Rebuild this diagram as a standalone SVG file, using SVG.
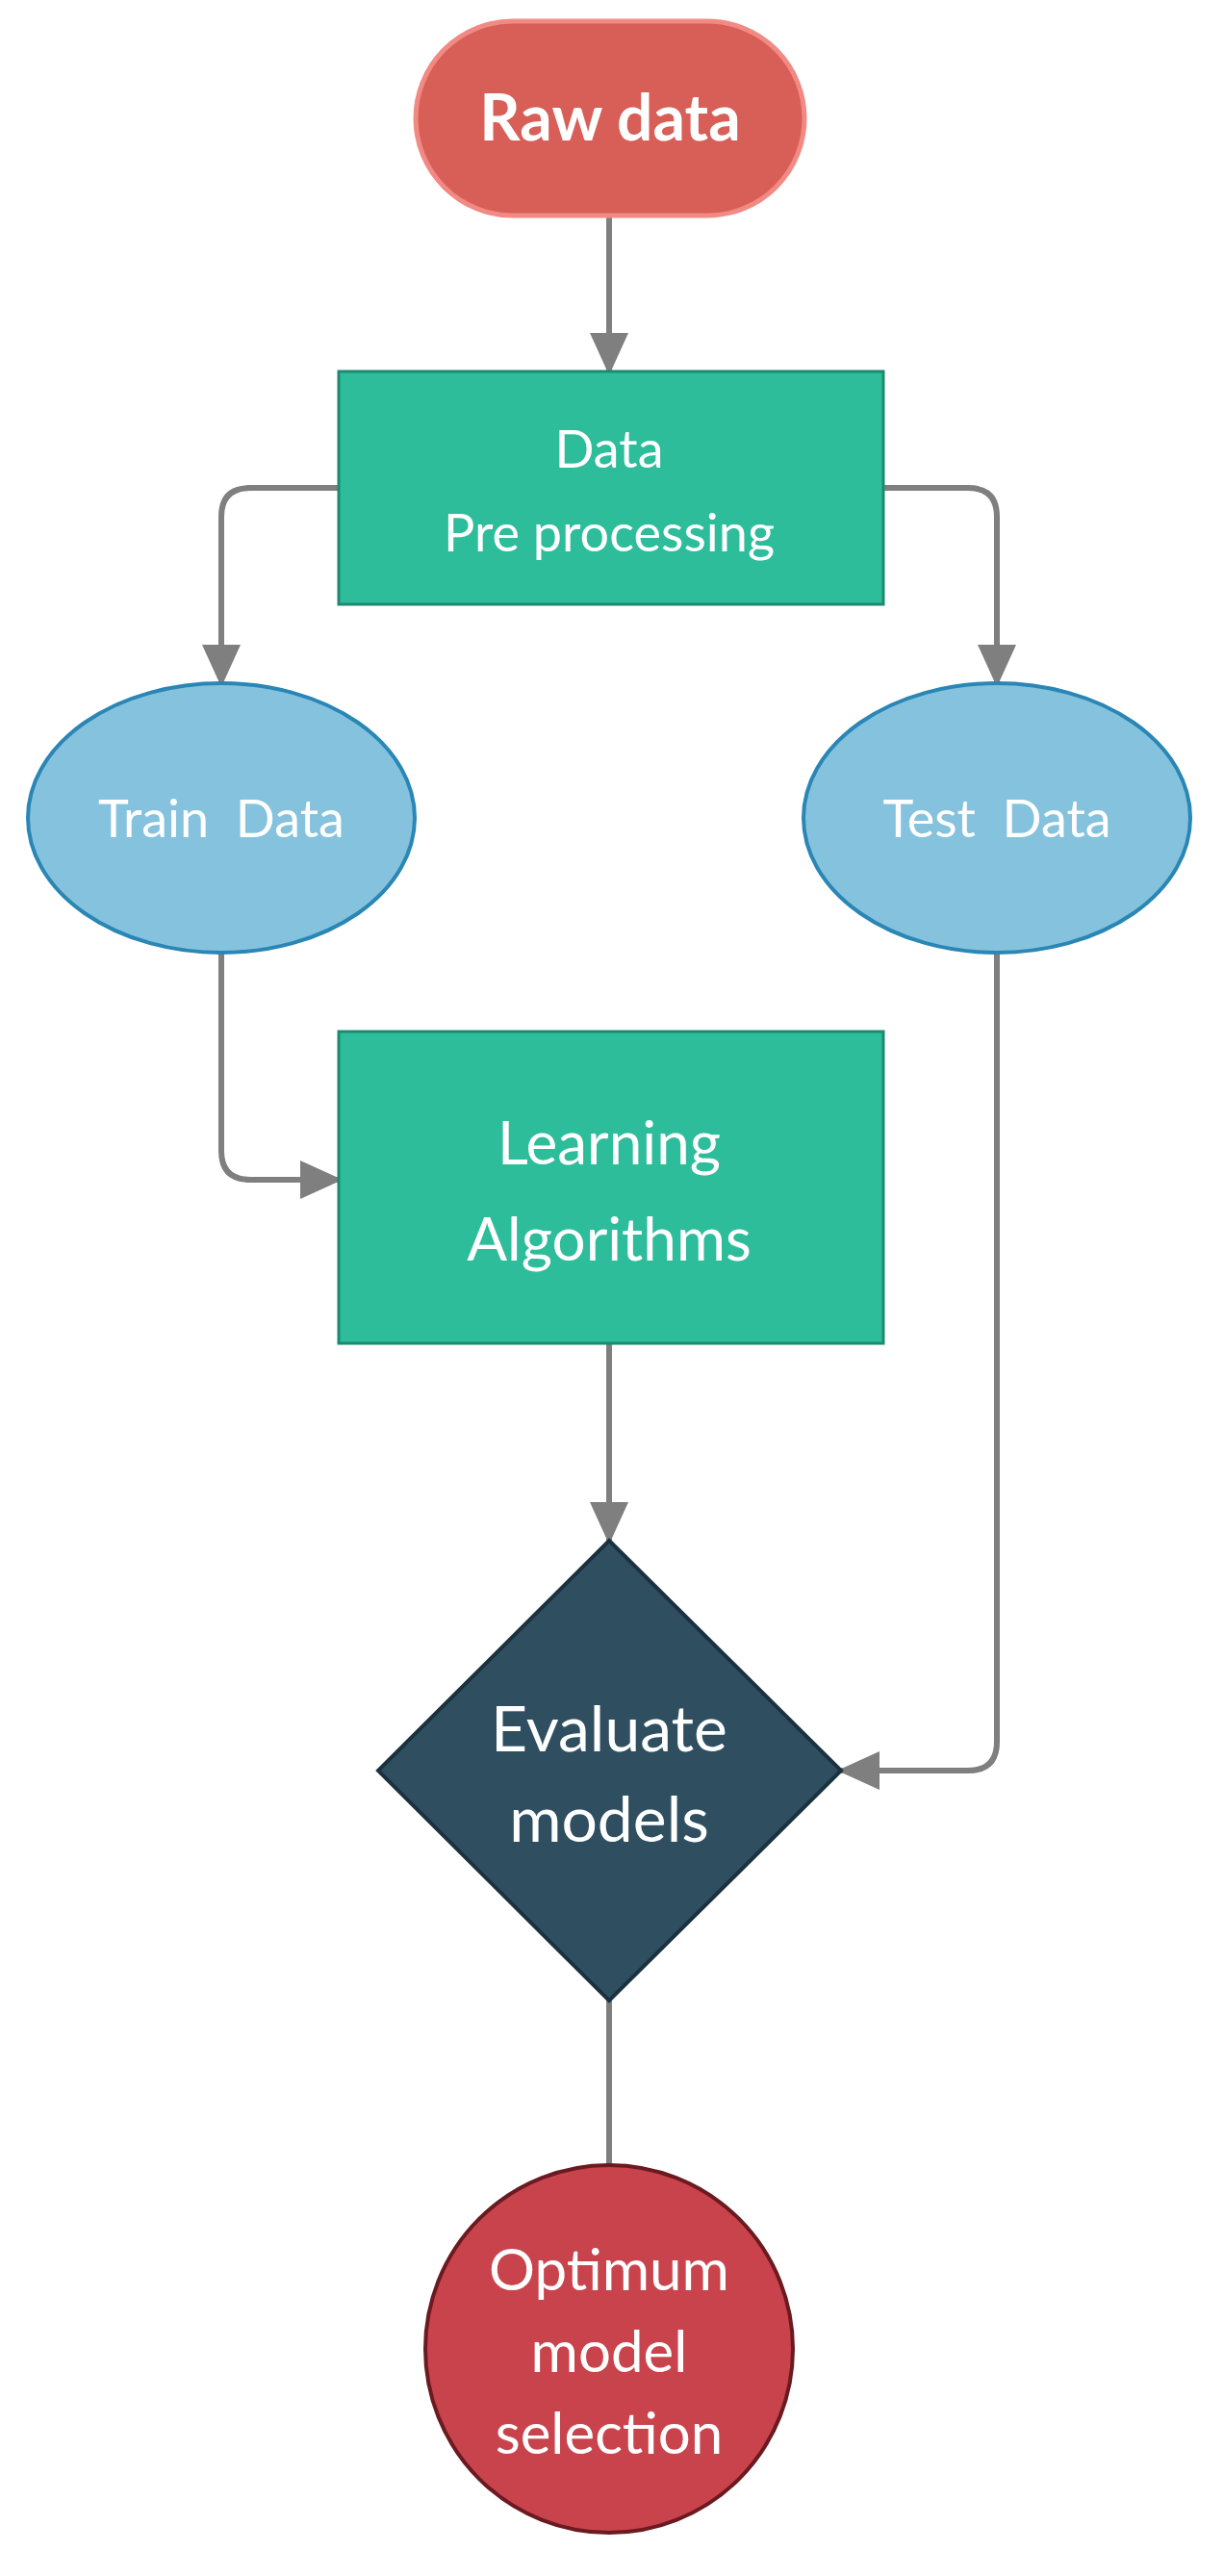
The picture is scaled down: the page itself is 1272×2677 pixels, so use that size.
<svg xmlns="http://www.w3.org/2000/svg" width="1272" height="2677" viewBox="0 0 1272 2677">
<defs>
<marker id="ah" markerWidth="44" markerHeight="40" refX="40" refY="20" orient="auto" markerUnits="userSpaceOnUse" viewBox="0 0 44 40">
<path d="M0,0 L44,20 L0,40 z" fill="#7f7f7f"/>
</marker>
<style>
text{font-family:Lato,"Open Sans","Liberation Sans",sans-serif;fill:#fff;text-anchor:middle}
.c{fill:none;stroke:#7f7f7f;stroke-width:6}
.rect{fill:#2dbd9b;stroke:#1c8a70;stroke-width:3}
.ell{fill:#85c2dd;stroke:#2a86b5;stroke-width:4}
</style>
</defs>
<rect width="1272" height="2677" fill="#fff"/>
<g id="connectors">
<line class="c" x1="633" y1="225" x2="633" y2="386" style="marker-end:url(#ah)"/>
<path class="c" d="M352,507 H260 Q230,507 230,537 V710" style="marker-end:url(#ah)"/>
<path class="c" d="M918,507 H1006 Q1036,507 1036,537 V710" style="marker-end:url(#ah)"/>
<path class="c" d="M230,990 V1196 Q230,1226 260,1226 H352" style="marker-end:url(#ah)"/>
<path class="c" d="M1036,990 V1810 Q1036,1840 1006,1840 H874" style="marker-end:url(#ah)"/>
<line class="c" x1="633" y1="1396" x2="633" y2="1601" style="marker-end:url(#ah)"/>
<line class="c" x1="633" y1="2079" x2="633" y2="2250"/>
</g>
<g id="raw">
<rect x="432" y="22" width="404" height="202" rx="101" fill="#d75f57" stroke="#f28a84" stroke-width="5"/>
<text x="634" y="146" font-size="66" font-weight="bold">Raw data</text>
</g>
<g id="pre">
<rect class="rect" x="352" y="386" width="566" height="242"/>
<text x="633" y="486" font-size="54">Data</text>
<text x="633" y="573" font-size="54">Pre processing</text>
</g>
<g id="train">
<ellipse class="ell" cx="230" cy="850" rx="201" ry="140"/>
<text x="230" y="870" font-size="54" xml:space="preserve">Train  Data</text>
</g>
<g id="test">
<ellipse class="ell" cx="1036" cy="850" rx="201" ry="140"/>
<text x="1036" y="870" font-size="54" xml:space="preserve">Test  Data</text>
</g>
<g id="learn">
<rect class="rect" x="352" y="1072" width="566" height="324"/>
<text x="633" y="1210" font-size="62">Learning</text>
<text x="633" y="1310" font-size="62">Algorithms</text>
</g>
<g id="eval">
<polygon points="633,1601 874,1840 633,2079 393,1840" fill="#2f4f61" stroke="#1b3140" stroke-width="4"/>
<text x="633" y="1820" font-size="66">Evaluate</text>
<text x="633" y="1914" font-size="66">models</text>
</g>
<g id="opt">
<circle cx="633" cy="2441" r="191" fill="#c9434c" stroke="#6a1a20" stroke-width="4"/>
<text x="633" y="2380" font-size="60">Optimum</text>
<text x="633" y="2465" font-size="60">model</text>
<text x="633" y="2550" font-size="60">selection</text>
</g>
</svg>
